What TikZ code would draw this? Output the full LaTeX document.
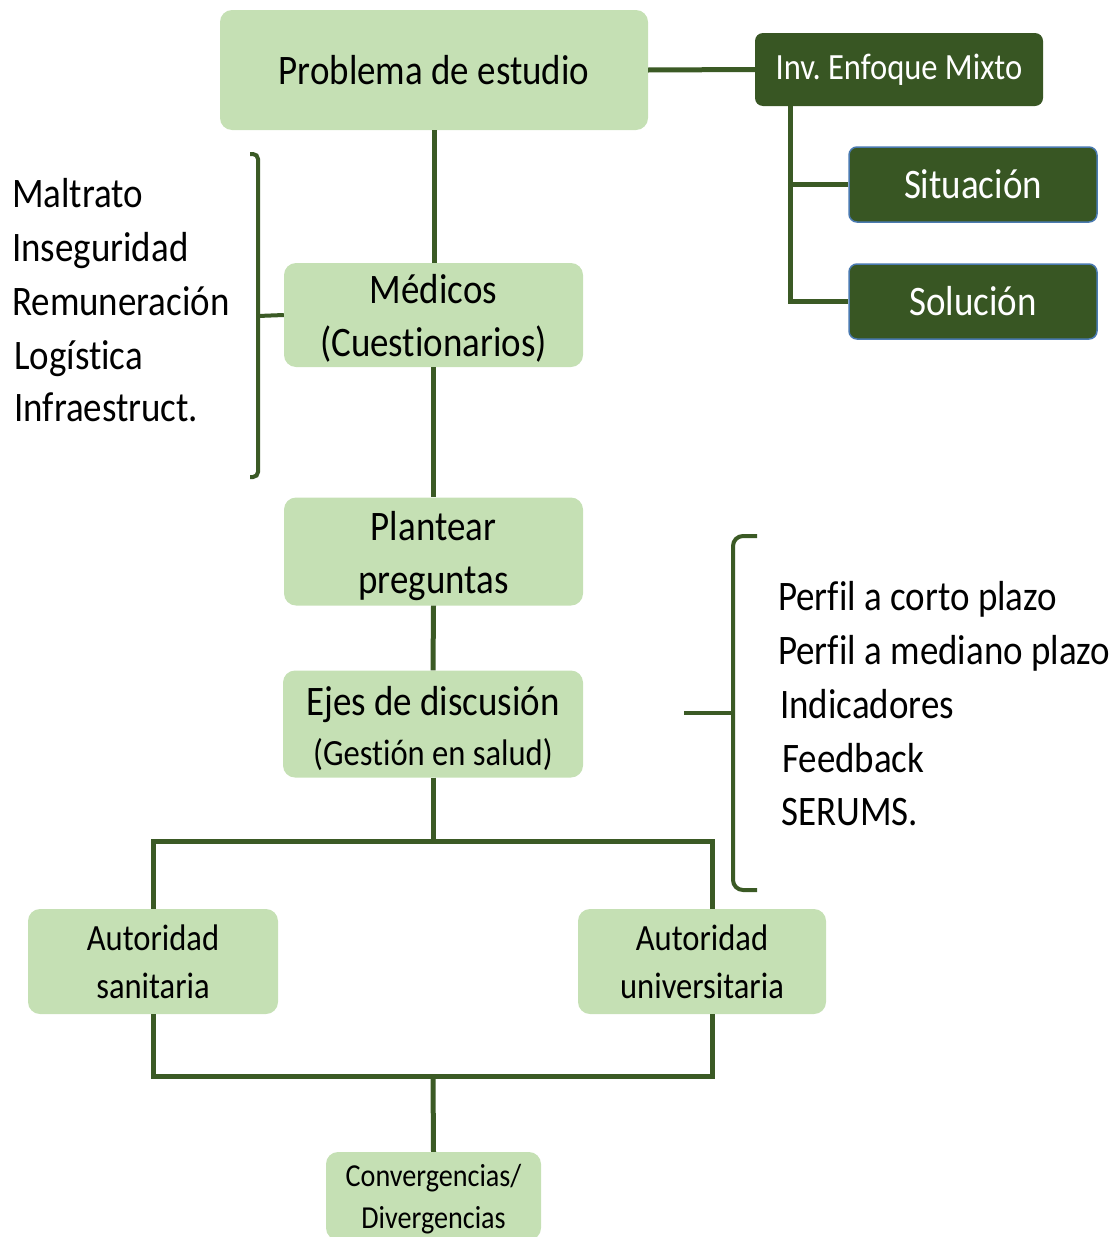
\documentclass[tikz,border=0pt]{standalone}
\usepackage{fontspec}
\setmainfont{Carlito}[FakeStretch=0.88, Ligatures=NoCommon]
\frenchspacing
\definecolor{lightg}{HTML}{C5E0B4}
\definecolor{darkg}{HTML}{385623}
\definecolor{lineg}{HTML}{3B5A25}
\definecolor{blueb}{HTML}{4A7AB0}
\newcommand{\TopStrut}[1]{\rule{0pt}{#1pt}}
\newcommand{\BotStrut}[1]{\rule[-#1pt]{0pt}{#1pt}}
\tikzset{
  lbox/.style={fill=lightg, rounded corners=12pt, align=center, inner sep=0pt, text=black},
  dbox/.style={fill=darkg, rounded corners=8pt, align=center, inner sep=0pt, text=white},
  conn/.style={draw=lineg, line width=5pt},
  brk/.style={draw=lineg, line width=4pt, rounded corners=5pt},
  listtxt/.style={anchor=base west, inner sep=0pt, font=\fontsize{42}{50}\selectfont}
}
\begin{document}
\begin{tikzpicture}[x=1pt,y=-1pt]
\useasboundingbox (0,0) rectangle (1117,1237);
\clip (0,0) rectangle (1117,1237);

% boxes
\node[lbox, minimum width=428, minimum height=120, font=\fontsize{42}{50}\selectfont] (prob) at (434,70) {Problema de estudio};
\node[dbox, minimum width=288, minimum height=73, font=\fontsize{37}{40}\selectfont] (inv) at (899,69.5) {Inv. Enfoque Mixto};
\node[dbox, draw=blueb, line width=1.5pt, minimum width=248, minimum height=75, font=\fontsize{42}{50}\selectfont] (sit) at (973,184.5) {Situación};
\node[dbox, draw=blueb, line width=1.5pt, minimum width=248, minimum height=75, font=\fontsize{42}{50}\selectfont] (sol) at (973,301.5) {Solución};
\node[lbox, minimum width=299, minimum height=104, font=\fontsize{42}{53}\selectfont] (med) at (433.5,315) {\TopStrut{40}Médicos\\(Cuestionarios)\BotStrut{10}};
\node[lbox, minimum width=299, minimum height=103, font=\fontsize{42}{53}\selectfont] (plan) at (433.5,551.5) {\TopStrut{43}Plantear\\preguntas\BotStrut{12}};
\node[lbox, minimum width=300, minimum height=104, font=\fontsize{42}{50}\selectfont] (ejes) at (433,724) {\TopStrut{45}Ejes de discusión\\{\fontsize{37}{50}\selectfont (Gestión en salud)\BotStrut{12}}};
\node[lbox, minimum width=250, minimum height=105, font=\fontsize{37}{48}\selectfont] (auts) at (153,961.5) {Autoridad\\sanitaria};
\node[lbox, minimum width=248, minimum height=105, font=\fontsize{37}{48}\selectfont] (autu) at (702,961.5) {Autoridad\\universitaria};
\node[lbox, minimum width=215, minimum height=88, font=\fontsize{32}{42}\selectfont] (conv) at (433.5,1196) {\TopStrut{33}Convergencias/\\Divergencias\BotStrut{10}};

% lists
\node[listtxt] (l1) at (12,207) {Maltrato};
\node[listtxt] (l2) at (12,261) {Inseguridad};
\node[listtxt] (l3) at (12,315) {Remuneración};
\node[listtxt] (l4) at (14,369) {Logística};
\node[listtxt] (l5) at (14,421) {Infraestruct.};
\node[listtxt] (r1) at (778,610) {Perfil a corto plazo};
\node[listtxt] (r2) at (778,664) {Perfil a mediano plazo};
\node[listtxt] (r3) at (780,718) {Indicadores};
\node[listtxt] (r4) at (782,772) {Feedback};
\node[listtxt] (r5) at (781,825) {SERUMS.};

% connectors
\draw[conn] (prob.south) -- (prob.south |- med.north);
\draw[conn] (med.south) -- (plan.north);
\draw[conn] (plan.south) -- (ejes.north);
\coordinate (j1) at (433,841);
\coordinate (jl) at (153,841);
\coordinate (jr) at (712,841);
\draw[conn] (ejes.south) -- (j1);
\draw[conn, line join=miter] (auts.north) -- (jl) -- (jr) -- (jr |- autu.north);
\coordinate (bl) at (153,1076);
\coordinate (br) at (712,1076);
\coordinate (bm) at (433,1076);
\draw[conn, line join=miter] (auts.south) -- (bl) -- (br) -- (br |- autu.south);
\draw[conn] (bm) -- (conv.north);

\draw[conn] (prob.east) -- (inv.west);
\coordinate (ib) at (790,106);
\draw[conn, line join=miter] (ib) |- (sol.west);
\draw[conn] (ib |- sit.west) -- (sit.west);

% brackets
\draw[brk] (250,154) -- (258,154) -- (258,477) -- (250,477);
\coordinate (lt) at (258,316);
\draw[brk] (lt) -- (med.west);
\draw[brk, rounded corners=10pt] (757,536) -- (733,536) -- (733,890) -- (757,890);
\coordinate (rt) at (684,713);
\draw[brk] (rt) -- (733,713);
\end{tikzpicture}
\end{document}
